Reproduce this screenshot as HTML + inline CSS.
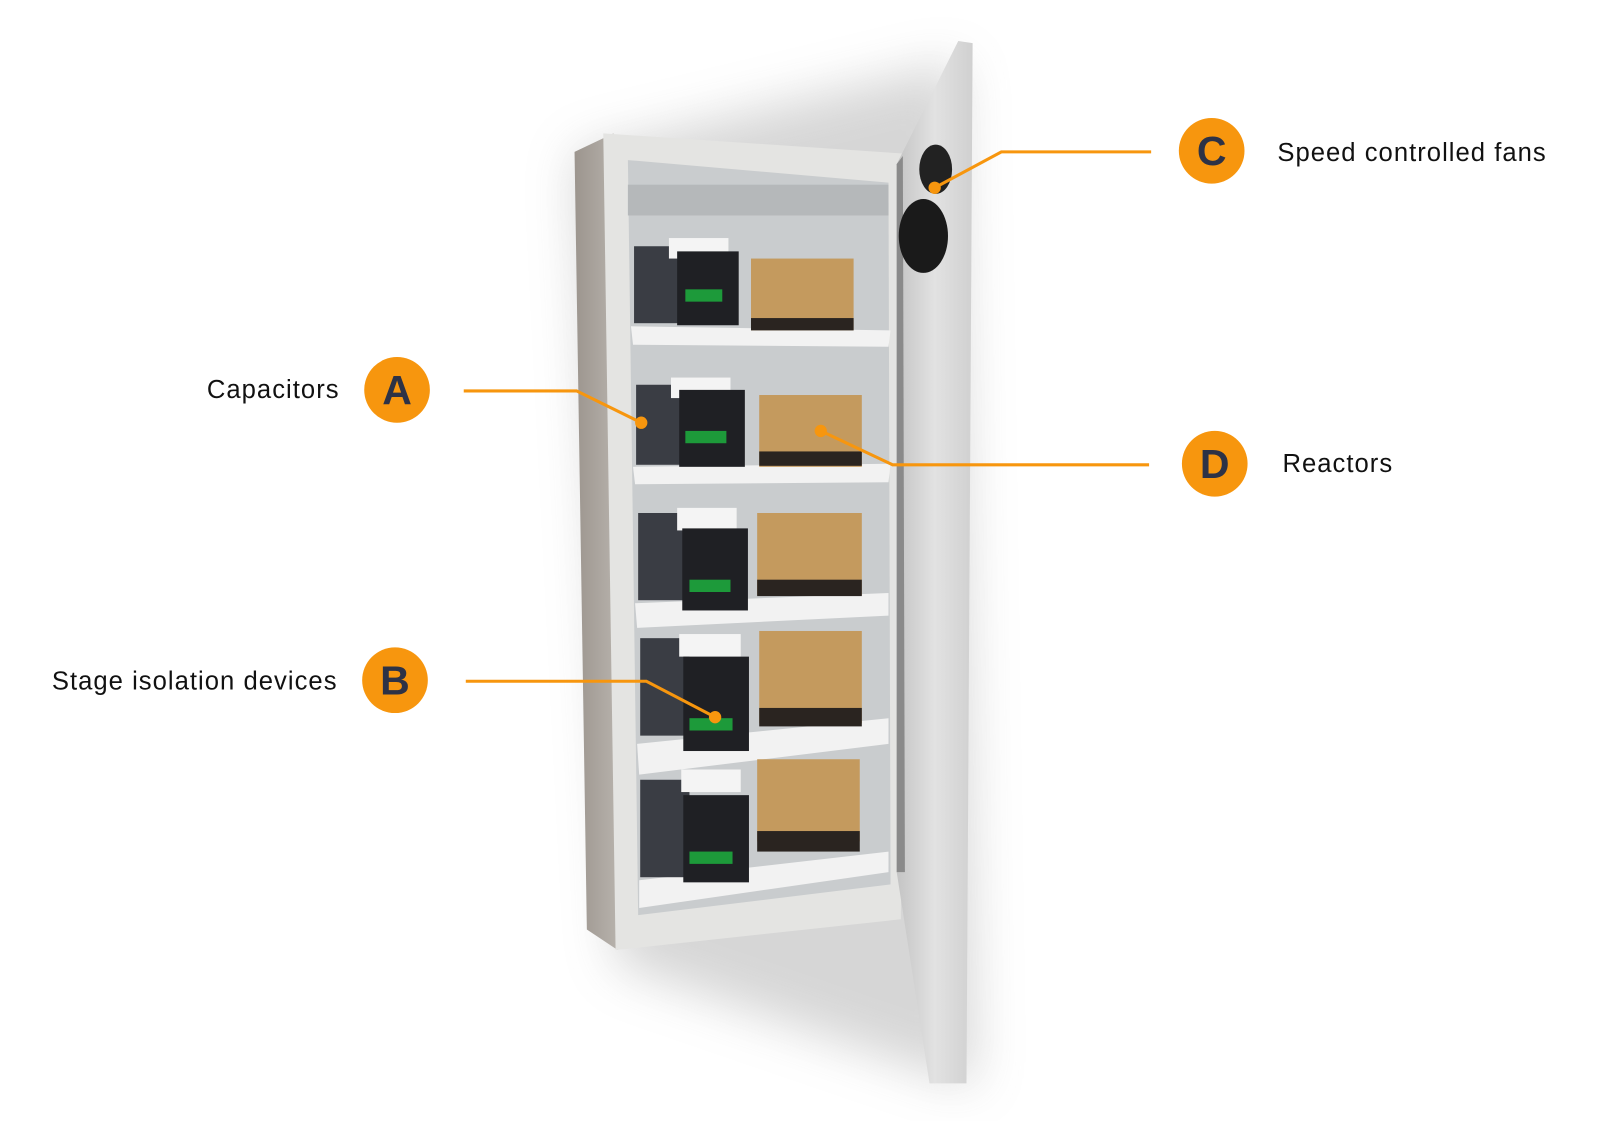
<!DOCTYPE html>
<html><head><meta charset="utf-8"><style>
html,body{margin:0;padding:0;background:#fff;width:1600px;height:1121px;overflow:hidden}
svg{display:block}
text{font-family:"Liberation Sans",sans-serif}
</style></head><body>
<svg width="1600" height="1121" viewBox="0 0 1559.5 1092.6" xmlns="http://www.w3.org/2000/svg">
<defs>
<filter id="bl" x="-50%" y="-50%" width="200%" height="200%"><feGaussianBlur stdDeviation="24"/></filter>
<linearGradient id="door" x1="0" x2="1"><stop offset="0" stop-color="#c4c4c4"/><stop offset="0.5" stop-color="#e2e2e2"/><stop offset="1" stop-color="#d0d0d0"/></linearGradient>
<linearGradient id="side" x1="0" x2="1"><stop offset="0" stop-color="#9c958e"/><stop offset="1" stop-color="#b7b2ac"/></linearGradient>
</defs>
<!-- shadow -->
<polygon points="560,150 935,60 950,1060 600,940" fill="#9a9a9a" opacity="0.4" filter="url(#bl)"/>
<!-- side panel -->
<polygon points="560,148 598,130 602,926 572,906" fill="url(#side)"/>
<!-- frame -->
<polygon points="588,130 886,150 878,896 600,926" fill="#e4e4e2"/>
<!-- interior -->
<polygon points="612,156 866,178 868,862 622,892" fill="#c9ccce"/>
<rect x="612" y="180" width="254" height="30" fill="#b5b8ba"/>
<g>
<polygon points="615,318 868,322 866,338 617,336" fill="#f2f2f2"/>
<polygon points="617,455 868,452 866,470 619,472" fill="#f2f2f2"/>
<polygon points="619,588 866,578 866,600 621,612" fill="#f2f2f2"/>
<polygon points="621,725 866,700 866,725 623,755" fill="#f2f2f2"/>
<polygon points="623,858 866,830 866,850 623,885" fill="#f2f2f2"/>
</g>
<g>
<rect x="618" y="240" width="48" height="75" fill="#3a3d44"/>
<rect x="652" y="232" width="58" height="20" fill="#f4f4f4"/>
<rect x="660" y="245" width="60" height="72" fill="#1f2024"/>
<rect x="668" y="282" width="36" height="12" fill="#1d9a3a"/>
<rect x="732" y="252" width="100" height="70" fill="#c49a5e"/>
<rect x="732" y="310" width="100" height="12" fill="#2a2420"/>
<rect x="620" y="375" width="48" height="78" fill="#3a3d44"/>
<rect x="654" y="368" width="58" height="20" fill="#f4f4f4"/>
<rect x="662" y="380" width="64" height="75" fill="#1f2024"/>
<rect x="668" y="420" width="40" height="12" fill="#1d9a3a"/>
<rect x="740" y="385" width="100" height="70" fill="#c49a5e"/>
<rect x="740" y="440" width="100" height="14" fill="#2a2420"/>
<rect x="622" y="500" width="48" height="85" fill="#3a3d44"/>
<rect x="660" y="495" width="58" height="22" fill="#f4f4f4"/>
<rect x="665" y="515" width="64" height="80" fill="#1f2024"/>
<rect x="672" y="565" width="40" height="12" fill="#1d9a3a"/>
<rect x="738" y="500" width="102" height="80" fill="#c49a5e"/>
<rect x="738" y="565" width="102" height="16" fill="#2a2420"/>
<rect x="624" y="622" width="48" height="95" fill="#3a3d44"/>
<rect x="662" y="618" width="60" height="22" fill="#f4f4f4"/>
<rect x="666" y="640" width="64" height="92" fill="#1f2024"/>
<rect x="672" y="700" width="42" height="12" fill="#1d9a3a"/>
<rect x="740" y="615" width="100" height="90" fill="#c49a5e"/>
<rect x="740" y="690" width="100" height="18" fill="#2a2420"/>
<rect x="624" y="760" width="48" height="95" fill="#3a3d44"/>
<rect x="664" y="750" width="58" height="22" fill="#f4f4f4"/>
<rect x="666" y="775" width="64" height="85" fill="#1f2024"/>
<rect x="672" y="830" width="42" height="12" fill="#1d9a3a"/>
<rect x="738" y="740" width="100" height="80" fill="#c49a5e"/>
<rect x="738" y="810" width="100" height="20" fill="#2a2420"/>
</g>
<!-- door -->
<polygon points="874,160 934,40 948,42 942,1056 906,1056 874,850" fill="url(#door)"/>
<polygon points="874,160 880,152 882,850 874,850" fill="#8a8a8a"/>
<ellipse cx="900" cy="230" rx="24" ry="36" fill="#1a1a1a"/>
<ellipse cx="912" cy="165" rx="16" ry="24" fill="#222"/>
<!-- connectors -->
<g stroke="#f7960e" stroke-width="3" fill="none">
<polyline points="452,381 562,381 625,412"/>
<polyline points="454,664 630,664 697,699"/>
<polyline points="1122,148 976,148 911,183"/>
<polyline points="1120,453 870,453 800,420"/>
</g>
<g fill="#f7960e">
<circle cx="625" cy="412" r="6"/><circle cx="697" cy="699" r="6"/>
<circle cx="911" cy="183" r="6"/><circle cx="800" cy="420" r="6"/>
<circle cx="387" cy="380" r="32"/><circle cx="385" cy="663" r="32"/>
<circle cx="1181" cy="147" r="32"/><circle cx="1184" cy="452" r="32"/>
</g>
<g fill="#2d3246" font-size="40" text-anchor="middle" font-weight="bold">
<text x="387" y="394">A</text><text x="385" y="677">B</text>
<text x="1181" y="161">C</text><text x="1184" y="466">D</text>
</g>
<g fill="#111" font-size="25" letter-spacing="1">
<text x="331" y="388" text-anchor="end">Capacitors</text>
<text x="329" y="672" text-anchor="end">Stage isolation devices</text>
<text x="1245" y="157">Speed controlled fans</text>
<text x="1250" y="460">Reactors</text>
</g>
</svg>
</body></html>
